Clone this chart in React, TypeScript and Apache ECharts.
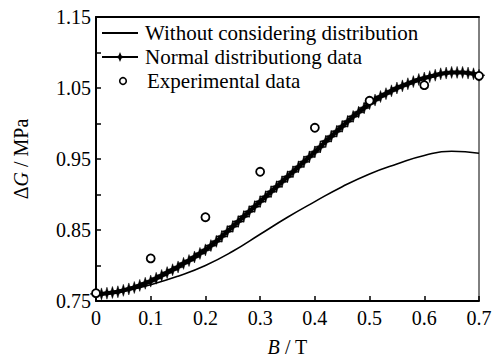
import React, { useEffect, useRef } from "react";
import * as echarts from "echarts";

const withoutB = [0, 0.05, 0.1, 0.15, 0.2, 0.25, 0.3, 0.35, 0.4, 0.45, 0.5, 0.55, 0.6, 0.65, 0.7];
const withoutG = [0.76, 0.764, 0.773, 0.785, 0.8, 0.82, 0.844, 0.868, 0.89, 0.911, 0.929, 0.943, 0.955, 0.961, 0.958];

const normalB = [
  0, 0.01, 0.02, 0.03, 0.04, 0.05, 0.06, 0.07, 0.08, 0.09,
  0.1, 0.11, 0.12, 0.13, 0.14, 0.15, 0.16, 0.17, 0.18, 0.19,
  0.2, 0.21, 0.22, 0.23, 0.24, 0.25, 0.26, 0.27, 0.28, 0.29,
  0.3, 0.31, 0.32, 0.33, 0.34, 0.35, 0.36, 0.37, 0.38, 0.39,
  0.4, 0.41, 0.42, 0.43, 0.44, 0.45, 0.46, 0.47, 0.48, 0.49,
  0.5, 0.51, 0.52, 0.53, 0.54, 0.55, 0.56, 0.57, 0.58, 0.59,
  0.6, 0.61, 0.62, 0.63, 0.64, 0.65, 0.66, 0.67, 0.68, 0.69, 0.7,
];
const normalG = [
  0.76, 0.76, 0.761, 0.762, 0.763, 0.765, 0.767, 0.769, 0.772, 0.775,
  0.778, 0.782, 0.786, 0.79, 0.794, 0.798, 0.803, 0.807, 0.812, 0.817,
  0.822, 0.828, 0.834, 0.841, 0.848, 0.855, 0.862, 0.869, 0.876, 0.883,
  0.89, 0.897, 0.904, 0.911, 0.918, 0.925, 0.932, 0.939, 0.946, 0.953,
  0.96, 0.967, 0.975, 0.982, 0.989, 0.996, 1.003, 1.01, 1.016, 1.022,
  1.028, 1.033, 1.038, 1.042, 1.046, 1.05, 1.053, 1.056, 1.059, 1.062,
  1.064, 1.066, 1.068, 1.07, 1.071, 1.072, 1.072, 1.072, 1.071, 1.07, 1.068,
];

const expB = [0, 0.1, 0.2, 0.3, 0.4, 0.5, 0.6, 0.7];
const expG = [0.761, 0.81, 0.868, 0.932, 0.994, 1.032, 1.054, 1.067];

const xTicks = [0, 0.1, 0.2, 0.3, 0.4, 0.5, 0.6, 0.7];
const yLabels = ["0.75", "0.85", "0.95", "1.05", "1.15"];
const legendNames = ["Without considering distribution", "Normal distributiong data", "Experimental data"];

const FONT = "'Liberation Serif', 'Times New Roman', serif";
const STAR = "path://M0,-6 L1.4,-1.4 L6,0 L1.4,1.4 L0,6 L-1.4,1.4 L-6,0 L-1.4,-1.4 Z";

export default function App() {
  const ref = useRef<HTMLDivElement>(null);
  useEffect(() => {
    if (!ref.current) return;
    const chart = echarts.init(ref.current, null, { renderer: "svg" });
    const zip = (a: number[], b: number[]) => a.map((v, i) => [v, b[i]]);
    const txt = (x: number, y: number, s: string) => ({
      type: "text",
      x,
      y,
      style: { text: s, fontFamily: FONT, fontSize: 21, fill: "#000", textVerticalAlign: "middle", textAlign: "left" },
    });
    chart.setOption({
      animation: false,
      backgroundColor: "#fff",
      textStyle: { fontFamily: FONT, color: "#000" },
      grid: {
        left: 96,
        right: 21,
        top: 17,
        bottom: 57,
        show: true,
        borderColor: "#000",
        borderWidth: 1,
      },
      graphic: [
        { type: "line", shape: { x1: 102, y1: 33, x2: 138, y2: 33 }, style: { stroke: "#000", lineWidth: 1.8 } },
        txt(145, 33, legendNames[0]),
        { type: "line", shape: { x1: 102, y1: 57, x2: 138, y2: 57 }, style: { stroke: "#000", lineWidth: 2 } },
        { type: "polygon", shape: { points: [[120, 52], [121.4, 55.6], [125, 57], [121.4, 58.4], [120, 62], [118.6, 58.4], [115, 57], [118.6, 55.6]] }, style: { fill: "#000" } },
        txt(145, 57, legendNames[1]),
        { type: "circle", shape: { cx: 123, cy: 81, r: 3.3 }, style: { fill: "#fff", stroke: "#000", lineWidth: 1.6 } },
        txt(147, 81, legendNames[2]),
      ],
      xAxis: [
        {
          type: "value",
          min: 0,
          max: 0.7,
          interval: 0.1,
          position: "bottom",
          splitLine: { show: false },
          axisLine: { lineStyle: { color: "#000", width: 2 } },
          axisTick: { inside: true, length: 5, lineStyle: { color: "#000", width: 1.5 } },
          axisLabel: {
            margin: 7,
            fontFamily: FONT,
            fontSize: 20,
            color: "#000",
            formatter: (v: number) => {
              const t = xTicks.find((x) => Math.abs(x - v) < 1e-6);
              return t === undefined ? "" : String(t);
            },
          },
          name: "{i|B} / T",
          nameLocation: "middle",
          nameGap: 36,
          nameTextStyle: {
            fontFamily: FONT,
            fontSize: 20,
            color: "#000",
            rich: { i: { fontFamily: FONT, fontSize: 20, fontStyle: "italic", color: "#000" } },
          },
        },
        {
          type: "value",
          min: 0,
          max: 0.7,
          position: "top",
          splitLine: { show: false },
          axisLine: { show: true, lineStyle: { color: "#000", width: 2 } },
          axisTick: { show: false },
          axisLabel: { show: false },
        },
      ],
      yAxis: {
        type: "value",
        min: 0.75,
        max: 1.15,
        interval: 0.05,
        splitLine: { show: false },
        axisLine: { show: true, lineStyle: { color: "#000", width: 2 } },
        axisTick: { inside: true, length: 5, lineStyle: { color: "#000", width: 1.5 } },
        axisLabel: {
          margin: 5,
          fontFamily: FONT,
          fontSize: 20,
          color: "#000",
          formatter: (v: number) => {
            const s = v.toFixed(2);
            return yLabels.includes(s) ? s : "";
          },
        },
        name: "{d|Δ}{i|G} / MPa",
        nameLocation: "middle",
        nameGap: 65,
        nameRotate: 90,
        nameTextStyle: {
          fontFamily: FONT,
          fontSize: 20,
          color: "#000",
          rich: {
            d: { fontFamily: FONT, fontSize: 20, color: "#000" },
            i: { fontFamily: FONT, fontSize: 20, fontStyle: "italic", color: "#000" },
          },
        },
      },
      series: [
        {
          name: legendNames[0],
          type: "line",
          data: zip(withoutB, withoutG),
          smooth: true,
          symbol: "none",
          lineStyle: { color: "#000", width: 1.6 },
          itemStyle: { color: "#000" },
          z: 2,
        },
        {
          name: legendNames[1],
          type: "line",
          data: zip(normalB, normalG),
          symbol: STAR,
          symbolSize: 12,
          showAllSymbol: true,
          lineStyle: { color: "#000", width: 4 },
          itemStyle: { color: "#000", borderColor: "#000", borderWidth: 0.5 },
          z: 3,
        },
        {
          name: legendNames[2],
          type: "scatter",
          data: zip(expB, expG),
          symbol: "circle",
          symbolSize: 8,
          itemStyle: { color: "#fff", borderColor: "#000", borderWidth: 1.8, opacity: 1 },
          z: 4,
        },
      ],
    });
    return () => chart.dispose();
  }, []);
  return <div ref={ref} style={{ width: 500, height: 362, position: "absolute", left: 0, top: 0 }} />;
}
